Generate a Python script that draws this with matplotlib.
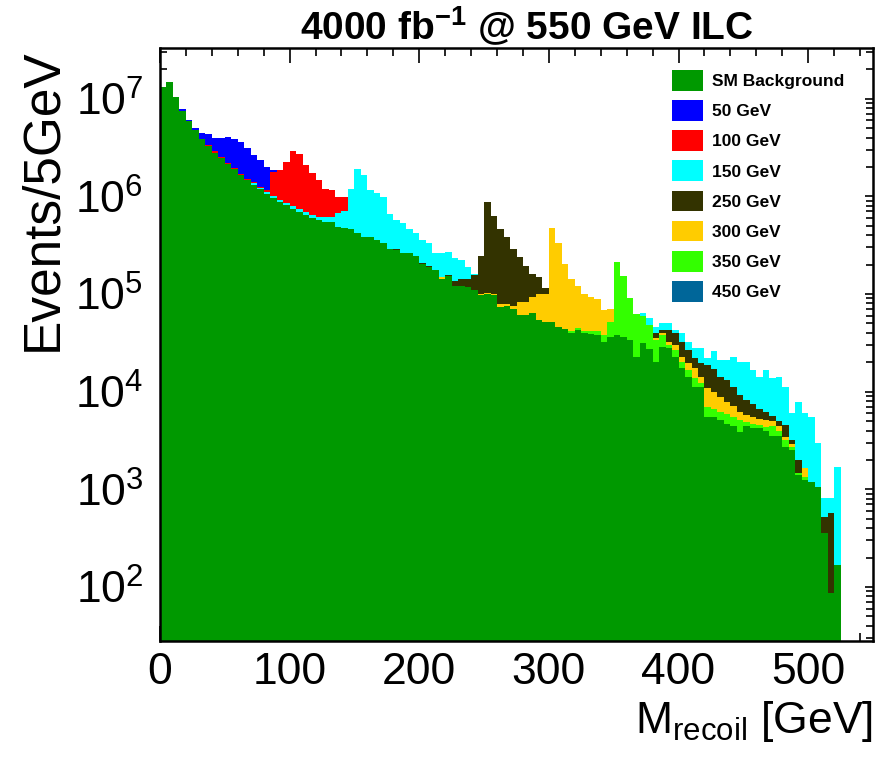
import numpy as np
import matplotlib
matplotlib.use('Agg')
import matplotlib.pyplot as plt
from matplotlib.patches import Patch
from matplotlib.ticker import MultipleLocator, LogLocator, FixedLocator

plt.rcParams['font.family'] = ['Liberation Sans', 'DejaVu Sans']
plt.rcParams['mathtext.fontset'] = 'custom'
plt.rcParams['mathtext.rm'] = 'Liberation Sans'
plt.rcParams['mathtext.it'] = 'Liberation Sans:italic'
plt.rcParams['mathtext.bf'] = 'Liberation Sans:bold'

# 5 GeV bins, 0 - 525 GeV
edges = np.arange(0, 530, 5)

sm = [
    1.32e7, 1.47e7, 1.03e7, 7.5e6, 5.9e6, 4.8e6, 3.9e6, 3.3e6, 2.8e6, 2.45e6,
    2.15e6, 1.9e6, 1.65e6, 1.47e6, 1.32e6, 1.18e6, 1.06e6, 9.6e5, 8.8e5, 8.1e5,
    7.5e5, 6.9e5, 6.4e5, 6.0e5, 5.7e5, 5.5e5, 5.4e5, 4.9e5, 4.7e5, 4.6e5,
    4.24e5, 3.8e5, 3.8e5, 3.6e5, 3.34e5, 2.92e5, 2.81e5, 2.6e5, 2.6e5, 2.44e5,
    2.02e5, 1.9e5, 1.76e5, 1.44e5, 1.52e5, 1.2e5, 1.2e5, 1.17e5, 1.11e5, 9.75e4,
    1.01e5, 9.75e4, 7.4e4, 7.5e4, 7.0e4, 6.1e4, 6.1e4, 6.4e4, 5.4e4, 5.2e4,
    5.2e4, 4.6e4, 4.4e4, 4.0e4, 4.3e4, 4.0e4, 3.9e4, 3.8e4, 3.2e4, 3.65e4,
    3.8e4, 3.65e4, 3.4e4, 2.24e4, 3.15e4, 2.75e4, 2.02e4, 2.88e4, 2.77e4, 2.28e4,
    1.73e4, 1.42e4, 1.12e4, 1.12e4, 5.5e3, 5.5e3, 5.1e3, 4.7e3, 4.4e3, 3.9e3,
    4.4e3, 4.2e3, 4.2e3, 4.0e3, 3.5e3, 3.5e3, 2.7e3, 2.5e3, 1.4e3, 1.25e3,
    1.2e3, 1.06e3, 354, 86, 168,
]

sig50 = [
    0, 0, 0, 2.5e5, 1.3e5, 1.5e5, 6.0e5, 9.1e5, 1.12e6, 1.43e6,
    1.86e6, 1.95e6, 1.9e6, 1.59e6, 1.24e6, 1.09e6, 8.6e5, 7e4, 0, 0,
    0, 0, 0, 0, 0, 0, 0, 0, 0, 0,
    0, 0, 0, 0, 0, 0, 0, 0, 0, 0,
    0, 0, 0, 0, 0, 0, 0, 0, 0, 0,
    0, 0, 0, 0, 0, 0, 0, 0, 0, 0,
    0, 0, 0, 0, 0, 0, 0, 0, 0, 0,
    0, 0, 0, 0, 0, 0, 0, 0, 0, 0,
    0, 0, 0, 0, 0, 0, 0, 0, 0, 0,
    0, 0, 0, 0, 0, 0, 0, 0, 0, 0,
    0, 0, 0, 0, 0,
]

sig100 = [
    0, 0, 0, 0, 0, 0, 0, 9e4, 8e4, 7e4,
    6e4, 5.5e4, 5e4, 4.5e4, 4e4, 4e4, 5e4, 7.8e5, 9.3e5, 1.41e6,
    2.11e6, 1.95e6, 1.4e6, 1.09e6, 8.5e5, 5.7e5, 5.5e5, 3.1e5, 2.8e5, 0,
    0, 0, 0, 0, 0, 0, 0, 0, 0, 0,
    0, 0, 0, 0, 0, 0, 0, 0, 0, 0,
    0, 0, 0, 0, 0, 0, 0, 0, 0, 0,
    0, 0, 0, 0, 0, 0, 0, 0, 0, 0,
    0, 0, 0, 0, 0, 0, 0, 0, 0, 0,
    0, 0, 0, 0, 0, 0, 0, 0, 0, 0,
    0, 0, 0, 0, 0, 0, 0, 0, 0, 0,
    0, 0, 0, 0, 0,
]

sig150 = [
    0, 0, 0, 0, 0, 0, 0, 0, 0, 0,
    0, 0, 0, 0, 4e4, 4e4, 4e4, 4e4, 4e4, 4e4,
    4e4, 4.5e4, 4.5e4, 5e4, 5e4, 6e4, 7e4, 1.9e5, 2.4e5, 7.4e5,
    1.46e6, 1.27e6, 7.9e5, 7.1e5, 6.4e5, 3.65e5, 2.8e5, 2.76e5, 1.98e5, 1.8e5,
    1.48e5, 1.39e5, 8.4e4, 1.1e5, 1.12e5, 9.4e4, 8.1e4, 4.9e4, 4e3, 0,
    0, 0, 0, 0, 0, 0, 0, 0, 0, 0,
    0, 0, 0, 0, 0, 0, 0, 0, 0, 0,
    0, 0, 0, 0, 5.5e3, 8.2e3, 6.7e3, 8.1e3, 7.3e3, 3e3,
    7.0e3, 5.8e3, 5.8e3, 8.2e3, 3.2e3, 9.0e3, 6.9e3, 8.0e3, 1.12e4, 1.1e4,
    1.2e4, 9.0e3, 7.5e3, 1.04e4, 8.2e3, 9.3e3, 6.6e3, 2.8e3, 5.9e3, 4.35e3,
    4.3e3, 1.9e3, 284, 242, 1.54e3,
]

sig250 = [
    0, 0, 0, 0, 0, 0, 0, 0, 0, 0,
    0, 0, 0, 0, 0, 0, 0, 0, 0, 0,
    0, 0, 0, 0, 0, 0, 0, 0, 0, 0,
    0, 0, 0, 0, 0, 0, 7e3, 0, 0, 0,
    6e3, 5e3, 0, 0, 6e3, 1.7e4, 2.1e4, 2.4e4, 4.5e4, 1.44e5,
    7.62e5, 5.32e5, 3.81e5, 3.0e5, 2.17e5, 1.58e5, 1.1e5, 6.8e4, 4.8e4, 1.3e4,
    0, 0, 0, 0, 0, 0, 0, 0, 0, 0,
    0, 0, 0, 0, 0, 0, 4.4e3, 3.2e3, 1.02e4, 9.5e3,
    9.7e3, 7.2e3, 4.6e3, 5.3e3, 7.9e3, 7.3e3, 5.3e3, 5.2e3, 4.2e3, 3.0e3,
    2.4e3, 2.0e3, 1.4e3, 1.1e3, 620, 540, 1.1e3, 250, 520, 0,
    0, 0, 171, 481, 0,
]

sig300 = [
    0, 0, 0, 0, 0, 0, 0, 0, 0, 0,
    0, 0, 0, 0, 0, 0, 0, 0, 0, 0,
    0, 0, 0, 0, 0, 0, 0, 0, 0, 0,
    0, 0, 0, 0, 0, 0, 0, 0, 0, 0,
    0, 0, 0, 6e3, 0, 0, 0, 0, 0, 3e3,
    2e3, 2.5e3, 5e3, 4e3, 5e3, 2.25e4, 2.25e4, 2.95e4, 4.6e4, 4.9e4,
    4.17e5, 2.88e5, 1.58e5, 1.02e5, 7.5e4, 5.9e4, 5.2e4, 4.6e4, 3.0e4, 1.75e4,
    0, 0, 0, 0, 0, 0, 1.4e3, 1.6e3, 2.5e3, 3.3e3,
    2.6e3, 2.9e3, 3.6e3, 2.0e3, 3.8e3, 3.2e3, 2.6e3, 1.9e3, 1.5e3, 1.1e3,
    840, 810, 770, 740, 540, 490, 260, 220, 20, 290,
    0, 0, 0, 0, 0,
]

sig350 = [
    0, 0, 0, 0, 0, 0, 0, 0, 0, 0,
    0, 0, 0, 0, 0, 0, 0, 0, 0, 0,
    0, 0, 0, 0, 0, 0, 0, 0, 0, 0,
    0, 0, 0, 0, 0, 0, 0, 0, 0, 0,
    0, 0, 0, 0, 0, 0, 0, 0, 0, 0,
    0, 0, 0, 0, 0, 0, 0, 0, 0, 0,
    0, 0, 0, 2e3, 2e3, 2e3, 3e3, 4e3, 6e3, 1.55e4,
    1.76e5, 1.15e5, 5.6e4, 4.0e4, 2.75e4, 2.05e4, 1.35e4, 9.1e3, 2.3e3, 3.9e3,
    2.9e3, 2.4e3, 2.5e3, 1.0e3, 1.5e3, 1.2e3, 1.1e3, 1.26e3, 1.16e3, 1.23e3,
    540, 520, 340, 340, 920, 430, 470, 210, 60, 100,
    0, 0, 0, 0, 0,
]

# 450 GeV sample gives no visible contribution
sig450 = [0] * len(sm)

# stacking order, bottom to top
stack = [
    (sm, '#009900', 'SM Background'),
    (sig450, '#006699', '450 GeV'),
    (sig350, '#33ff00', '350 GeV'),
    (sig300, '#ffcc00', '300 GeV'),
    (sig250, '#333300', '250 GeV'),
    (sig150, '#00ffff', '150 GeV'),
    (sig100, '#ff0000', '100 GeV'),
    (sig50, '#0000ff', '50 GeV'),
]
legend_order = ['SM Background', '50 GeV', '100 GeV', '150 GeV',
                '250 GeV', '300 GeV', '350 GeV', '450 GeV']
ydecades = [1e2, 1e3, 1e4, 1e5, 1e6, 1e7]


def main():
    fig = plt.figure(figsize=(8.84, 7.58), dpi=100)
    ax = fig.add_axes([160 / 884, 1 - 641 / 758, 713 / 884, 593 / 758])
    ax.set_axisbelow(True)

    cum = np.zeros(len(sm))
    colors = {}
    for vals, col, lab in stack:
        top = cum + np.asarray(vals, dtype=float)
        base = cum.copy() if lab != 'SM Background' else 0.1
        ax.stairs(top, edges, baseline=base, fill=True, color=col, lw=0)
        cum = top
        colors[lab] = col

    ax.set_yscale('log')
    ax.set_xlim(0, 550)
    ax.set_ylim(28, 3.3e7)

    ax.xaxis.set_major_locator(MultipleLocator(100))
    ax.xaxis.set_minor_locator(MultipleLocator(20))
    ax.yaxis.set_major_locator(FixedLocator(ydecades))
    ax.yaxis.set_minor_locator(LogLocator(base=10, subs=np.arange(2, 10)))

    ax.tick_params(which='both', direction='in', top=True, right=True,
                   width=1.2, labelsize=32)
    ax.tick_params(axis='x', which='major', length=11, pad=8)
    ax.tick_params(axis='x', which='minor', length=6)
    ax.tick_params(axis='y', which='major', length=6, pad=12)
    ax.tick_params(axis='y', which='minor', length=5)
    for sp in ax.spines.values():
        sp.set_linewidth(1.8)

    handles = [Patch(facecolor=colors[l], edgecolor='none') for l in legend_order]
    ax.legend(handles, legend_order, loc='upper left',
              bbox_to_anchor=(672 / 884, 1 - 70 / 758),
              bbox_transform=fig.transFigure, frameon=False,
              prop=dict(weight='bold', size=12.5),
              handlelength=1.8, handleheight=1.45, handletextpad=0.5,
              labelspacing=0.55, borderpad=0, borderaxespad=0)

    fig.text(527 / 884, 1 - 40 / 758, r'4000 fb$^{\mathbf{-1}}$ @ 550 GeV ILC',
             ha='center', va='baseline', fontsize=28, fontweight='bold')
    fig.text(43 / 884, 1 - 48 / 758, 'Events/5GeV', rotation=90,
             ha='center', va='top', fontsize=37)
    fig.text(873 / 884, 1 - 733 / 758, r'M$_{\mathrm{recoil}}$ [GeV]',
             ha='right', va='baseline', fontsize=32)

    fig.savefig('out.png', dpi=100)


if __name__ == '__main__':
    main()
